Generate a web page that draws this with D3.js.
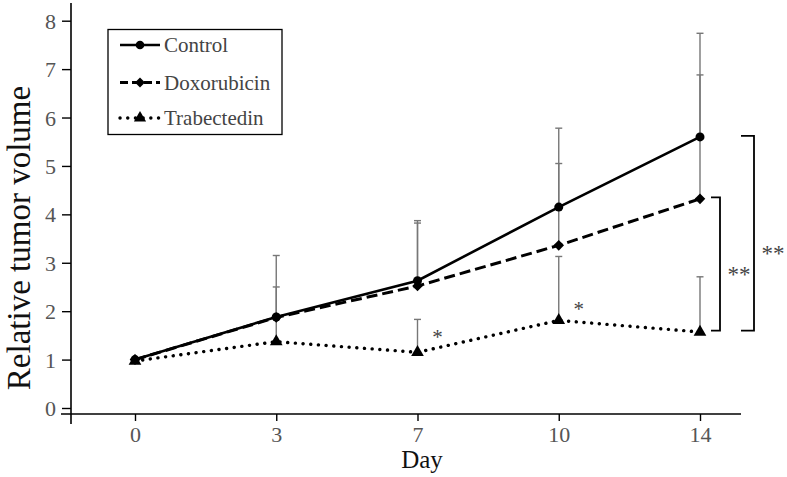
<!DOCTYPE html>
<html>
<head>
<meta charset="utf-8">
<script src="https://cdn.jsdelivr.net/npm/d3@7"></script>
<style>
  html, body { margin: 0; padding: 0; background: #fff; }
  svg { display: block; }
</style>
</head>
<body>
<svg id="chart" width="787" height="477"></svg>
<script>
const days = ["0", "3", "7", "10", "14"];
const yTicks = [0, 1, 2, 3, 4, 5, 6, 7, 8];
const seriesNames = ["Control", "Doxorubicin", "Trabectedin"];
const control = [1.0, 1.88, 2.63, 4.15, 5.6];
const doxorubicin = [1.0, 1.87, 2.52, 3.36, 4.32];
const trabectedin = [0.97, 1.37, 1.15, 1.81, 1.57];
const controlUpper = [null, 3.15, 3.87, 5.78, 7.74];
const doxorubicinUpper = [null, 2.5, 3.82, 5.05, 6.88];
const trabectedinUpper = [null, 1.88, 1.83, 3.13, 2.71];
const dayStars = [{ day: "7", value: 1.58 }, { day: "10", value: 2.15 }];

const svg = d3.select("#chart");
const font = "'Liberation Serif', 'Times New Roman', serif";

const x = d3.scalePoint().domain(days).range([135, 700]);
const y = d3.scaleLinear().domain([0, 8]).range([408, 20.7]);

// axes
const yAxis = d3.axisLeft(y).tickValues(yTicks).tickSize(9).tickPadding(6).tickFormat(d3.format("d"));
const gy = svg.append("g").attr("transform", "translate(71,0)").call(yAxis);
gy.select(".domain").remove();
gy.selectAll(".tick line").attr("stroke", "#000").attr("stroke-width", 1.4);
gy.selectAll(".tick text").attr("font-family", font).attr("font-size", 22).attr("fill", "#555").attr("dy", "0.34em");

const xAxis = d3.axisBottom(x).tickSize(7).tickPadding(5);
const gx = svg.append("g").attr("transform", "translate(0,414)").call(xAxis);
gx.select(".domain").remove();
gx.selectAll(".tick line").attr("stroke", "#000").attr("stroke-width", 1.4);
gx.selectAll(".tick text").attr("font-family", font).attr("font-size", 22).attr("fill", "#555");

svg.append("line").attr("x1", 71).attr("x2", 71).attr("y1", 3).attr("y2", 424)
  .attr("stroke", "#000").attr("stroke-width", 1.6);
svg.append("line").attr("x1", 61).attr("x2", 741).attr("y1", 414).attr("y2", 414)
  .attr("stroke", "#000").attr("stroke-width", 1.6);

// titles
svg.append("text").attr("transform", "translate(30,238) rotate(-90)")
  .attr("text-anchor", "middle").attr("font-family", font).attr("font-size", 33)
  .attr("fill", "#111").text("Relative tumor volume");
svg.append("text").attr("x", 422).attr("y", 468)
  .attr("text-anchor", "middle").attr("font-family", font).attr("font-size", 25)
  .attr("fill", "#111").text("Day");

// error bars
const errColor = "#777";
const errSets = [
  { mean: control, upper: controlUpper },
  { mean: doxorubicin, upper: doxorubicinUpper },
  { mean: trabectedin, upper: trabectedinUpper }
];
const gErr = svg.append("g");
errSets.forEach(s => {
  days.forEach((d, i) => {
    if (s.upper[i] == null) return;
    gErr.append("line").attr("x1", x(d)).attr("x2", x(d))
      .attr("y1", y(s.mean[i])).attr("y2", y(s.upper[i]))
      .attr("stroke", errColor).attr("stroke-width", 1.4);
    gErr.append("line").attr("x1", x(d) - 3.5).attr("x2", x(d) + 3.5)
      .attr("y1", y(s.upper[i])).attr("y2", y(s.upper[i]))
      .attr("stroke", errColor).attr("stroke-width", 1.4);
  });
});

// series lines
const line = d3.line().x((v, i) => x(days[i])).y(v => y(v));
const styles = [
  { data: control, dash: null, width: 2.6, cap: "butt", marker: "circle" },
  { data: doxorubicin, dash: "11,5", width: 3, cap: "butt", marker: "diamond" },
  { data: trabectedin, dash: "0.1,7.6", width: 3.4, cap: "round", marker: "triangle" }
];
const wideDiamond = {
  draw(ctx, size) {
    const r = Math.sqrt(size / 2);
    ctx.moveTo(0, -r); ctx.lineTo(r, 0); ctx.lineTo(0, r); ctx.lineTo(-r, 0); ctx.closePath();
  }
};
const symbolFor = m => m === "circle" ? d3.symbolCircle : (m === "diamond" ? wideDiamond : d3.symbolTriangle);
const symbolSize = m => m === "circle" ? 64 : (m === "diamond" ? 56 : 70);

styles.forEach(st => {
  svg.append("path").attr("d", line(st.data)).attr("fill", "none")
    .attr("stroke", "#000").attr("stroke-width", st.width)
    .attr("stroke-dasharray", st.dash).attr("stroke-linecap", st.cap);
});
styles.forEach(st => {
  svg.append("g").selectAll("path").data(st.data).join("path")
    .attr("transform", (v, i) => `translate(${x(days[i])},${y(v)})`)
    .attr("d", d3.symbol().type(symbolFor(st.marker)).size(symbolSize(st.marker)))
    .attr("fill", "#000");
});

// single stars
dayStars.forEach(s => {
  svg.append("text").attr("x", x(s.day) + 20).attr("y", y(s.value) + 12)
    .attr("text-anchor", "middle").attr("font-family", font).attr("font-size", 21)
    .attr("fill", "#444").text("*");
});

// brackets
const last = days.length - 1;
function bracket(xl, xr, vTop, vBot, label, lx, ly) {
  const p = d3.path();
  p.moveTo(xl, y(vTop)); p.lineTo(xr, y(vTop)); p.lineTo(xr, y(vBot)); p.lineTo(xl, y(vBot));
  svg.append("path").attr("d", p.toString()).attr("fill", "none")
    .attr("stroke", "#000").attr("stroke-width", 1.8);
  svg.append("text").attr("x", lx).attr("y", ly).attr("text-anchor", "middle")
    .attr("font-family", font).attr("font-size", 23)
    .attr("fill", "#444").text(label);
}
bracket(711, 720, doxorubicin[last] + 0.03, trabectedin[last] + 0.03, "**", 739, 282);
bracket(741, 754, control[last] + 0.02, trabectedin[last] + 0.03, "**", 773, 261);

// legend
const lg = svg.append("g");
lg.append("rect").attr("x", 108).attr("y", 29.5).attr("width", 174).attr("height", 105)
  .attr("fill", "#fff").attr("stroke", "#000").attr("stroke-width", 1.3);
const legendY = [45, 82.5, 118];
seriesNames.forEach((name, i) => {
  const st = styles[i];
  lg.append("line").attr("x1", 120).attr("x2", 160).attr("y1", legendY[i]).attr("y2", legendY[i])
    .attr("stroke", "#000").attr("stroke-width", st.width)
    .attr("stroke-dasharray", st.marker === "diamond" ? "8,4" : st.dash)
    .attr("stroke-linecap", st.cap);
  lg.append("path").attr("transform", `translate(140,${legendY[i]})`)
    .attr("d", d3.symbol().type(symbolFor(st.marker)).size(symbolSize(st.marker) - 6)).attr("fill", "#000");
  lg.append("text").attr("x", 164).attr("y", legendY[i] + 7)
    .attr("font-family", font).attr("font-size", 21).attr("fill", "#444").text(name);
});
</script>
</body>
</html>
